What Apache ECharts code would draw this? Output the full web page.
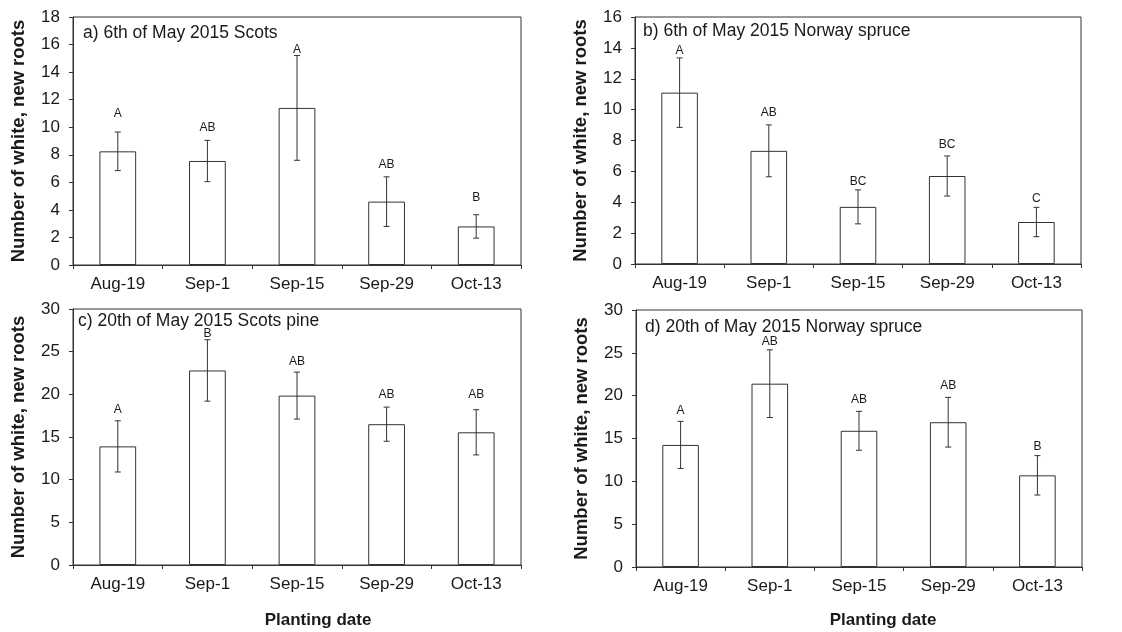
<!DOCTYPE html>
<html><head><meta charset="utf-8">
<script src="https://cdn.jsdelivr.net/npm/echarts@6/dist/echarts.min.js"></script>
<style>html,body{margin:0;padding:0;background:#fff}#c{width:1122px;height:632px}</style>
</head><body><div id="c"></div>
<script>
const categories = ['Aug-19','Sep-1','Sep-15','Sep-29','Oct-13'];

const meanA = [8.25, 7.55, 11.4, 4.6, 2.8];
const errA = [1.4, 1.5, 3.8, 1.8, 0.85];
const lettersA = ['A','AB','A','AB','B'];
const letterYA = [11.0, 10.0, 15.6, 7.3, 4.9];

const meanB = [11.1, 7.33, 3.7, 5.7, 2.72];
const errB = [2.25, 1.68, 1.1, 1.3, 0.95];
const lettersB = ['A','AB','BC','BC','C'];
const letterYB = [13.8, 9.8, 5.3, 7.7, 4.2];

const meanC = [13.9, 22.8, 19.85, 16.5, 15.55];
const errC = [3.0, 3.6, 2.75, 2.0, 2.65];
const lettersC = ['A','B','AB','AB','AB'];
const letterYC = [18.2, 27.1, 23.8, 19.9, 19.9];

const meanD = [14.25, 21.4, 15.9, 16.9, 10.7];
const errD = [2.75, 3.95, 2.27, 2.9, 2.3];
const lettersD = ['A','AB','AB','AB','B'];
const letterYD = [18.3, 26.3, 19.55, 21.2, 14.1];

const yMax = [18, 16, 30, 30];
const yInterval = [2, 2, 5, 5];
const panelTitles = ['a) 6th of May 2015 Scots','b) 6th of May 2015 Norway spruce','c) 20th of May 2015 Scots pine','d) 20th of May 2015 Norway spruce'];
const yTitle = 'Number of white, new roots';
const xTitle = 'Planting date';

const FONT = '"Liberation Sans", Arial, sans-serif';
const LINE = '#333';
const TEXT = '#1a1a1a';

const panels = [
  {mean: meanA, err: errA, letters: lettersA, ly: letterYA},
  {mean: meanB, err: errB, letters: lettersB, ly: letterYB},
  {mean: meanC, err: errC, letters: lettersC, ly: letterYC},
  {mean: meanD, err: errD, letters: lettersD, ly: letterYD}
];

const grids = [
  {left: 73, top: 17, width: 448, height: 248},
  {left: 635, top: 17, width: 446, height: 247},
  {left: 73, top: 309, width: 448, height: 256},
  {left: 636, top: 310, width: 446, height: 257}
];
const titlePos = [[83, 33], [643, 31], [78, 321], [645, 327]];

const option = {
  backgroundColor: '#fff',
  animation: false,
  grid: grids.map(g => Object.assign({show: true, borderColor: LINE, borderWidth: 1, backgroundColor: 'transparent'}, g)),
  xAxis: grids.map((g, i) => ({
    type: 'category', gridIndex: i, data: categories, boundaryGap: true,
    axisLine: {lineStyle: {color: LINE, width: 1}},
    axisTick: {show: true, length: 4, lineStyle: {color: LINE}},
    axisLabel: {color: TEXT, fontFamily: FONT, fontSize: 17, margin: 11},
    splitLine: {show: false}
  })),
  yAxis: grids.map((g, i) => ({
    type: 'value', gridIndex: i, min: 0, max: yMax[i], interval: yInterval[i],
    name: yTitle, nameLocation: 'middle', nameGap: 45,
    nameTextStyle: {color: TEXT, fontFamily: FONT, fontSize: 18.5, fontWeight: 'bold'},
    axisLine: {show: true, lineStyle: {color: LINE, width: 1}},
    axisTick: {show: true, length: 4, lineStyle: {color: LINE}},
    axisLabel: {color: TEXT, fontFamily: FONT, fontSize: 17, margin: 13},
    splitLine: {show: false}
  })),
  series: [],
  graphic: []
};

panels.forEach((p, i) => {
  option.series.push({
    type: 'bar', xAxisIndex: i, yAxisIndex: i, data: p.mean, barWidth: '41%',
    itemStyle: {color: '#fff', borderColor: LINE, borderWidth: 1}, z: 2
  });
  option.series.push({
    type: 'custom', xAxisIndex: i, yAxisIndex: i, z: 3,
    data: p.mean.map((m, k) => [k, m, p.err[k]]),
    renderItem: function (params, api) {
      const x = api.value(0), m = api.value(1), e = api.value(2);
      const t = api.coord([x, m + e]), b = api.coord([x, m - e]);
      const hw = 3;
      const st = {stroke: LINE, lineWidth: 1};
      return {type: 'group', children: [
        {type: 'line', shape: {x1: t[0], y1: t[1], x2: b[0], y2: b[1]}, style: st},
        {type: 'line', shape: {x1: t[0] - hw, y1: t[1], x2: t[0] + hw, y2: t[1]}, style: st},
        {type: 'line', shape: {x1: b[0] - hw, y1: b[1], x2: b[0] + hw, y2: b[1]}, style: st}
      ]};
    }
  });
  option.series.push({
    type: 'custom', xAxisIndex: i, yAxisIndex: i, z: 4,
    data: p.ly.map((v, k) => [k, v]),
    renderItem: function (params, api) {
      const c = api.coord([api.value(0), api.value(1)]);
      return {type: 'text', x: c[0], y: c[1], style: {
        text: p.letters[params.dataIndex], fill: TEXT, font: '12px ' + FONT,
        textAlign: 'center', textVerticalAlign: 'middle'
      }};
    }
  });
  option.graphic.push({
    type: 'text', x: titlePos[i][0], y: titlePos[i][1], z: 10,
    style: {text: panelTitles[i], fill: TEXT, font: '17.5px ' + FONT, textAlign: 'left', textVerticalAlign: 'middle'}
  });
});

option.graphic.push({type: 'text', x: 318, y: 620, style: {text: xTitle, fill: TEXT, font: 'bold 17px ' + FONT, textAlign: 'center', textVerticalAlign: 'middle'}});
option.graphic.push({type: 'text', x: 883, y: 620, style: {text: xTitle, fill: TEXT, font: 'bold 17px ' + FONT, textAlign: 'center', textVerticalAlign: 'middle'}});

const chart = echarts.init(document.getElementById('c'), null, {renderer: 'canvas'});
chart.setOption(option);
</script></body></html>
